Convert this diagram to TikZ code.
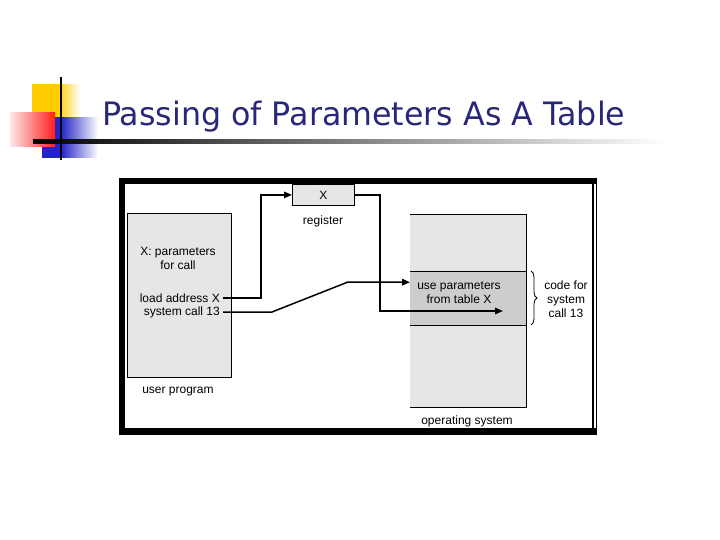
\documentclass[tikz,border=0pt]{standalone}
\usepackage{fontspec}
\setmainfont{Liberation Sans}
\newfontfamily\titlefont{DejaVu Sans}
\usetikzlibrary{arrows.meta,decorations.pathreplacing}
\definecolor{titleblue}{RGB}{40,40,120}
\definecolor{lightfill}{RGB}{230,230,230}
\definecolor{bandfill}{RGB}{205,205,205}
\definecolor{logoyellow}{RGB}{255,204,0}
\definecolor{logored}{RGB}{255,30,30}
\definecolor{logopink}{RGB}{255,232,232}
\definecolor{logoblue}{RGB}{35,35,200}
\pgfdeclarehorizontalshading{yelfade}{100bp}{color(0bp)=(logoyellow); color(25bp)=(logoyellow); color(52bp)=(logoyellow); color(75bp)=(white); color(100bp)=(white)}
\pgfdeclarehorizontalshading{bluefade}{100bp}{color(0bp)=(logoblue); color(25bp)=(logoblue); color(42bp)=(logoblue); color(75bp)=(white); color(100bp)=(white)}
\pgfdeclarehorizontalshading{linefade}{100bp}{color(0bp)=(black); color(25bp)=(black); color(75bp)=(white); color(100bp)=(white)}
\begin{document}
\begin{tikzpicture}[x=1pt,y=-1pt,
  lbl/.style={font=\fontsize{12}{14}\selectfont, inner sep=0pt, align=center},
  box/.style={draw, fill=lightfill, line width=0.8pt, inner sep=0pt},
  conn/.style={line width=1.5pt, line join=miter},
  arr/.style={conn, -{Triangle[length=8pt,width=6.5pt]}}]
\useasboundingbox (0,0) rectangle (720,540);
% logo
\shade[shading=yelfade] (32,85) rectangle (80,118);
\shade[shading=bluefade] (42,118) rectangle (98,158);
\shade[left color=logopink, right color=logored] (10,113) rectangle (55,147);
\shade[shading=linefade] (33,140) rectangle (665,143.5);
\draw[line width=2pt] (61,77) -- (61,160);
% title
\node[anchor=base west, inner sep=0pt, text=titleblue] (title) at (102,126)
  {\resizebox{523pt}{24.5pt}{\titlefont Passing of Parameters As A Table}};
% frame
\fill (119,178.5) rectangle (597,435);
\fill[white] (125,184) rectangle (592,428);
\fill[white] (593.5,184) rectangle (595.5,428);
% user program
\node[box, anchor=north west, minimum width=104pt, minimum height=164pt] (user) at (127,213) {};
\node[lbl] (xpar) at (178,258) {X: parameters\\for call};
\node[lbl, anchor=east] (ldx) at (220,298) {load address X};
\node[lbl, anchor=east] (sys) at (220,312) {system call 13};
\node[lbl] (uprog) at (178,392) {user program};
% register
\node[box, anchor=north west, minimum width=62pt, minimum height=21pt, font=\fontsize{12}{14}\selectfont] (reg) at (292,184) {X};
\node[lbl] (regl) at (323,221) {register};
% operating system
\node[fill=lightfill, anchor=north west, minimum width=116pt, minimum height=193pt, inner sep=0pt] (os) at (410,214) {};
\draw[line width=0.8pt] (os.north west) -- (os.north east) -- (os.south east) -- (os.south west);
\node[fill=bandfill, anchor=north west, minimum width=116pt, minimum height=54pt, inner sep=0pt] (band) at (410,271) {};
\draw[line width=0.8pt] (band.north west) -- (band.north east);
\draw[line width=0.8pt] (band.south west) -- (band.south east);
\draw[line width=0.8pt] (os.north east) -- (os.south east);
\node[lbl] (usep) at (459,293) {use parameters\\from table X};
\node[lbl] (opsys) at (467,421) {operating system};
\draw[decorate, decoration={brace, amplitude=6pt}, line width=0.8pt] (531,271) -- (531,325);
\node[lbl] (code) at (566,299) {code for\\system\\call 13};
% connectors
\coordinate (bend2) at (348,282);
\coordinate (tip3) at (503,311);
\draw[arr] ([xshift=3pt]ldx.east) -- ++(38,0) |- (reg.west);
\draw[arr] ([xshift=3pt]sys.east) -- ++(49,0) -- (bend2) -- ([yshift=16pt]band.west);
\draw[arr] (reg.east) -- ++(25,0) |- (tip3);
\end{tikzpicture}
\end{document}
